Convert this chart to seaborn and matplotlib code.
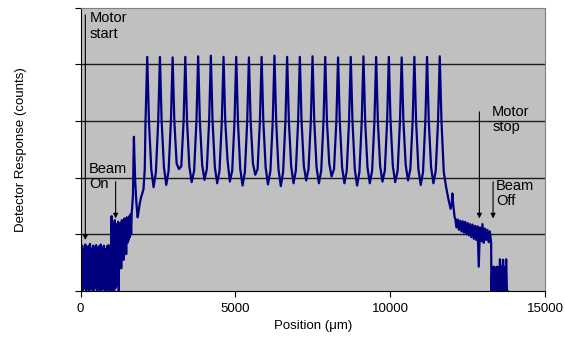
import pandas as pd
import numpy as np
import matplotlib
matplotlib.use('Agg')
import matplotlib.pyplot as plt
import seaborn as sns

# --- data (position in um, response in grid units) ---

# motor running, beam off: dense noise block
start_pos = [0, 25, 50, 75, 100, 125, 150, 175, 200, 225, 250, 275, 300, 325, 350, 375,
             400, 425, 450, 475, 500, 525, 550, 575, 600, 625, 650, 675, 700, 725, 750,
             775, 800, 825, 850, 875, 900, 925, 950, 975]
start_resp = [0.78, 0.02, 0.80, 0.00, 0.74, 0.05, 0.82, 0.01, 0.77, 0.03, 0.79, 0.00,
              0.83, 0.04, 0.75, 0.02, 0.80, 0.00, 0.78, 0.06, 0.81, 0.01, 0.76, 0.03,
              0.79, 0.00, 0.82, 0.02, 0.77, 0.05, 0.80, 0.01, 0.74, 0.00, 0.79, 0.03,
              0.81, 0.02, 0.78, 0.00]

# beam switched on
beamon_pos = [1000, 1010, 1025, 1040, 1060, 1080, 1100, 1120, 1140, 1150, 1170, 1190,
              1210, 1230, 1250, 1270, 1290, 1310, 1330, 1350, 1370, 1390, 1410, 1430,
              1450, 1470, 1490, 1510, 1530, 1550, 1570, 1590, 1610, 1630, 1650]
beamon_resp = [1.32, 0.00, 1.20, 0.02, 1.15, 0.00, 1.25, 0.05, 1.10, 0.10, 1.18, 0.55,
               1.22, 0.00, 1.15, 0.60, 1.20, 0.40, 1.25, 0.70, 1.18, 0.55, 1.28, 0.80,
               1.22, 0.65, 1.30, 0.85, 1.26, 0.90, 1.32, 0.95, 1.35, 1.00, 1.40]

# ramp up to the first grating line
ramp_pos = [1660, 1690, 1705, 1720, 1735, 1760, 1800, 1840, 1870, 1910, 1950, 1990,
            2030, 2070, 2095]
ramp_resp = [1.45, 1.70, 2.30, 2.72, 2.40, 1.95, 1.55, 1.30, 1.40, 1.55, 1.65, 1.72,
             1.80, 2.15, 3.00]

# the 24 peaks
peak_pos = [2150, 2560, 2970, 3380, 3795, 4205, 4615, 5025, 5435, 5845, 6260, 6670,
            7080, 7490, 7900, 8315, 8725, 9135, 9545, 9955, 10370, 10780, 11190, 11600]
peak_top = [4.13, 4.13, 4.12, 4.13, 4.14, 4.15, 4.13, 4.13, 4.12, 4.13, 4.15, 4.13,
            4.13, 4.14, 4.13, 4.12, 4.13, 4.14, 4.13, 4.13, 4.12, 4.13, 4.13, 4.14]

# between peaks: falling wall, shoulder, trough, shoulder, rising wall
gap_pos = [
    [2205, 2280, 2355, 2430, 2505], [2615, 2690, 2765, 2840, 2915],
    [3025, 3100, 3175, 3250, 3325], [3435, 3510, 3585, 3665, 3740],
    [3850, 3925, 4000, 4075, 4150], [4260, 4335, 4410, 4485, 4560],
    [4670, 4745, 4820, 4895, 4970], [5080, 5155, 5230, 5305, 5380],
    [5490, 5565, 5640, 5715, 5790], [5900, 5975, 6050, 6130, 6205],
    [6315, 6390, 6465, 6540, 6615], [6725, 6800, 6875, 6950, 7025],
    [7135, 7210, 7285, 7360, 7435], [7545, 7620, 7695, 7770, 7845],
    [7955, 8030, 8105, 8185, 8260], [8370, 8445, 8520, 8595, 8670],
    [8780, 8855, 8930, 9005, 9080], [9190, 9265, 9340, 9415, 9490],
    [9600, 9675, 9750, 9825, 9900], [10010, 10085, 10160, 10240, 10315],
    [10425, 10500, 10575, 10650, 10725], [10835, 10910, 10985, 11060, 11135],
    [11245, 11320, 11395, 11470, 11545],
]
gap_resp = [
    [3.00, 2.15, 1.83, 2.10, 3.00], [3.00, 2.18, 1.87, 2.12, 3.00],
    [3.00, 2.25, 2.15, 2.20, 3.00], [3.00, 2.20, 1.92, 2.12, 3.00],
    [3.00, 2.22, 1.96, 2.15, 3.00], [3.00, 2.18, 1.90, 2.12, 3.00],
    [3.00, 2.30, 1.93, 2.12, 3.00], [3.00, 2.15, 1.86, 2.10, 3.00],
    [3.00, 2.25, 2.05, 2.15, 3.00], [3.00, 2.18, 1.88, 2.12, 3.00],
    [3.00, 2.15, 1.85, 2.10, 3.00], [3.00, 2.20, 1.90, 2.12, 3.00],
    [3.00, 2.20, 1.95, 2.15, 3.00], [3.00, 2.18, 1.90, 2.12, 3.00],
    [3.00, 2.25, 2.02, 2.15, 3.00], [3.00, 2.18, 1.90, 2.12, 3.00],
    [3.00, 2.15, 1.86, 2.10, 3.00], [3.00, 2.18, 1.90, 2.12, 3.00],
    [3.00, 2.20, 1.93, 2.12, 3.00], [3.00, 2.20, 1.92, 2.12, 3.00],
    [3.00, 2.22, 1.95, 2.15, 3.00], [3.00, 2.15, 1.87, 2.10, 3.00],
    [3.00, 2.18, 1.90, 2.12, 3.00],
]

# decay after the last peak
decay_pos = [11655, 11730, 11800, 11880, 11950, 11990, 12010, 12030, 12060, 12080]
decay_resp = [3.00, 2.10, 1.85, 1.62, 1.45, 1.55, 1.72, 1.55, 1.40, 1.30]

# noisy tail until the beam goes off
tail_pos = [12100, 12140, 12180, 12220, 12260, 12300, 12340, 12380, 12420, 12460,
            12500, 12540, 12580, 12620, 12660, 12700, 12740, 12780, 12820, 12860,
            12900, 12940, 12980, 13020, 13060, 13100, 13140, 13180, 13220, 13260]
tail_resp = [1.28, 1.12, 1.26, 1.08, 1.24, 1.05, 1.23, 1.03, 1.22, 1.00,
             1.20, 0.98, 1.18, 0.95, 1.17, 0.92, 1.15, 0.90, 1.14, 0.43,
             1.12, 0.88, 1.18, 0.85, 1.10, 0.90, 1.08, 0.86, 1.05, 0.85]

# beam off, motor stopped
end_pos = [13270, 13295, 13320, 13345, 13370, 13395, 13420, 13445, 13470, 13495, 13520,
           13545, 13570, 13595, 13620, 13645, 13670, 13695, 13720, 13745, 13770, 13790]
end_resp = [0.00, 0.42, 0.00, 0.43, 0.01, 0.41, 0.00, 0.43, 0.02, 0.42, 0.00,
            0.56, 0.01, 0.43, 0.00, 0.55, 0.02, 0.42, 0.00, 0.56, 0.01, 0.00]

# --- assemble the trace in order ---
pos, resp = [], []
pos += start_pos + beamon_pos + ramp_pos
resp += start_resp + beamon_resp + ramp_resp
for i in range(len(peak_pos)):
    pos.append(peak_pos[i])
    resp.append(peak_top[i])
    if i < len(gap_pos):
        pos += gap_pos[i]
        resp += gap_resp[i]
pos += decay_pos + tail_pos + end_pos
resp += decay_resp + tail_resp + end_resp

df = pd.DataFrame({'Position': pos, 'Response': resp})

plt.rcParams['font.family'] = ['Liberation Sans', 'DejaVu Sans']

fig = plt.figure(figsize=(5.65, 3.37), dpi=100)
ax = fig.add_axes([0.1428, 0.1365, 0.8218, 0.8412])
ax.set_facecolor('#C0C0C0')

sns.lineplot(data=df, x='Position', y='Response', sort=False, estimator=None,
             color='#000080', lw=1.6, ax=ax)

ax.set_xlim(0, 15000)
ax.set_ylim(0, 5)
ax.set_xticks([0, 5000, 10000, 15000])
ax.set_yticks([0, 1, 2, 3, 4, 5])
ax.set_yticklabels([])
for g in [1, 2, 3, 4]:
    ax.axhline(g, color='#1a1a1a', lw=1, zorder=1)

ax.tick_params(axis='x', length=4, width=0.8, pad=5, labelsize=9.5, color='black')
ax.tick_params(axis='y', length=4, width=0.8, color='black')
ax.spines['left'].set_color('black')
ax.spines['bottom'].set_color('black')
ax.spines['top'].set_color('#808080')
ax.spines['right'].set_color('#808080')
for s in ax.spines.values():
    s.set_linewidth(0.8)

ax.set_xlabel('Position (\u03bcm)', fontsize=9.5, labelpad=3)
ax.set_ylabel('Detector Response (counts)', fontsize=9.5, labelpad=31)

# annotations
arrow = dict(arrowstyle='-|>', color='black', lw=0.8, mutation_scale=7, shrinkA=0, shrinkB=0)
ax.annotate('', xy=(150, 0.9), xytext=(150, 4.87), arrowprops=arrow)
ax.text(277, 4.93, 'Motor\nstart', ha='left', va='top', fontsize=10.5, linespacing=1.1)
ax.annotate('', xy=(1129, 1.28), xytext=(1129, 1.93), arrowprops=arrow)
ax.text(270, 2.27, 'Beam\nOn', ha='left', va='top', fontsize=10.5, linespacing=1.1)
ax.annotate('', xy=(12880, 1.28), xytext=(12880, 3.16), arrowprops=arrow)
ax.text(13290, 3.28, 'Motor\nstop', ha='left', va='top', fontsize=10.5, linespacing=1.1)
ax.annotate('', xy=(13323, 1.28), xytext=(13323, 1.93), arrowprops=arrow)
ax.text(13420, 1.97, 'Beam\nOff', ha='left', va='top', fontsize=10.5, linespacing=1.1)

fig.savefig('out.png', dpi=100)
